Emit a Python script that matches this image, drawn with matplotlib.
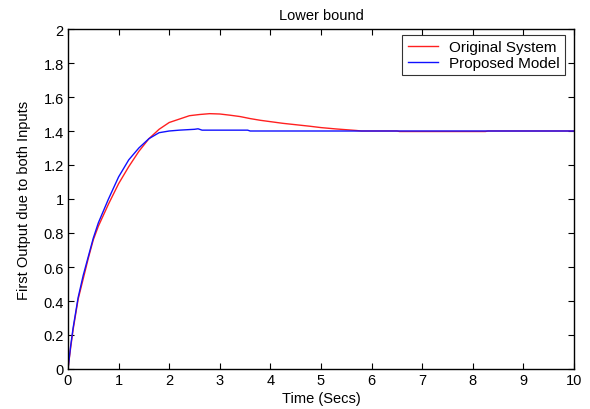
import matplotlib
matplotlib.use("Agg")
import matplotlib.pyplot as plt

t_orig = [0, 0.05, 0.1, 0.2, 0.3, 0.4, 0.5, 0.6, 0.8, 1.0, 1.2, 1.4, 1.6, 1.8, 2.0,
          2.2, 2.4, 2.6, 2.8, 3.0, 3.2, 3.4, 3.6, 3.8, 4.0, 4.25, 4.5, 4.78, 5.0,
          5.3, 5.7, 5.8, 6.5, 6.55, 8.25, 8.3, 10]
y_orig = [0, 0.12, 0.23, 0.41, 0.53, 0.65, 0.76, 0.84, 0.97, 1.09, 1.19, 1.28, 1.355,
          1.41, 1.45, 1.47, 1.49, 1.497, 1.502, 1.50, 1.493, 1.485, 1.473, 1.463,
          1.455, 1.445, 1.437, 1.428, 1.42, 1.412, 1.403, 1.40, 1.40, 1.397, 1.397,
          1.40, 1.40]

t_model = [0, 0.05, 0.1, 0.2, 0.3, 0.4, 0.5, 0.6, 0.8, 1.0, 1.2, 1.4, 1.6, 1.8, 2.0,
           2.2, 2.5, 2.57, 2.65, 3.55, 3.6, 10]
y_model = [0, 0.13, 0.24, 0.42, 0.55, 0.66, 0.77, 0.86, 1.00, 1.13, 1.23, 1.30, 1.355,
           1.39, 1.40, 1.405, 1.41, 1.413, 1.405, 1.405, 1.40, 1.40]

x_ticks = list(range(0, 11))
y_ticks = [0, 0.2, 0.4, 0.6, 0.8, 1, 1.2, 1.4, 1.6, 1.8, 2]
y_tick_labels = ["0", "0.2", "0.4", "0.6", "0.8", "1", "1.2", "1.4", "1.6", "1.8", "2"]

plt.rcParams['font.family'] = ['Liberation Sans', 'DejaVu Sans']
plt.rcParams['font.size'] = 10.5

fig = plt.figure(figsize=(5.9, 4.1), dpi=100)
ax = fig.add_axes([68/590, 40/410, (574-68)/590, (370-30)/410])

ax.plot(t_orig, y_orig, color='#ff2020', lw=1.0, label='Original System')
ax.plot(t_model, y_model, color='#1010ff', lw=1.0, label='Proposed Model')

ax.set_xlim(0, 10)
ax.set_ylim(0, 2)
ax.set_xticks(x_ticks)
ax.set_yticks(y_ticks)
ax.set_yticklabels(y_tick_labels)
ax.tick_params(direction='in', top=True, right=True, length=4, width=0.8, pad=3,
               labelsize=10.5)
for s in ax.spines.values():
    s.set_linewidth(1.0)
    s.set_color('black')

ax.set_title('Lower bound', fontsize=10.5, pad=7)
ax.set_xlabel('Time (Secs)', fontsize=10.5, labelpad=3)
ax.set_ylabel('First Output due to both Inputs', fontsize=10.5, labelpad=9)

leg = ax.legend(loc='upper right', frameon=True, fancybox=False, edgecolor='black',
                bbox_to_anchor=(1 - 9/506, 1 - 6/340),
                borderaxespad=0.0, handlelength=2.0, handletextpad=0.7,
                borderpad=0.35, labelspacing=0.1, fontsize=11)
leg.get_frame().set_linewidth(0.8)

fig.savefig('out.png', dpi=100)
